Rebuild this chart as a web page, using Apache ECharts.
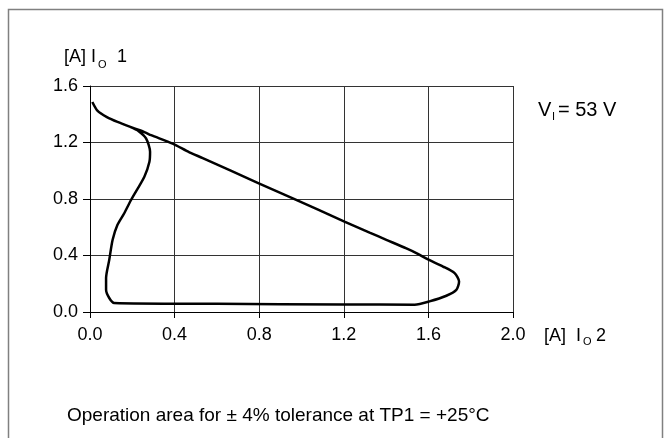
<!DOCTYPE html>
<html>
<head>
<meta charset="utf-8">
<script src="https://cdn.jsdelivr.net/npm/echarts@6/dist/echarts.min.js"></script>
<style>
html,body{margin:0;padding:0;background:#fff;}
#c{width:668px;height:438px;}
</style>
</head>
<body>
<div id="c"></div>
<script>
// Boundary of the operation area, traced in drawing order: I_O 2 (x) and I_O 1 (y), in A
var io2 = [0.011,0.036,0.08,0.13,0.21,0.26,0.289,0.391,0.470,0.533,0.798,0.959,1.203,1.322,1.401,1.496,1.55,1.598,1.669,1.724,1.745,1.732,1.685,1.605,1.535,1.2,0.6,0.114,0.091,0.076,0.076,0.091,0.107,0.13,0.162,0.194,0.257,0.281,0.284,0.265,0.23,0.19];
var io1 = [1.487,1.424,1.38,1.346,1.30,1.272,1.252,1.192,1.13,1.090,0.911,0.805,0.640,0.562,0.511,0.450,0.412,0.372,0.322,0.275,0.216,0.157,0.115,0.075,0.052,0.053,0.058,0.064,0.099,0.157,0.240,0.369,0.511,0.617,0.699,0.793,0.958,1.064,1.134,1.229,1.28,1.31];
var xTicks = [0.0,0.4,0.8,1.2,1.6,2.0];
var yTicks = [0.0,0.4,0.8,1.2,1.6];

var pts = io2.map(function(x,i){return [x, io1[i]];});
var FONT = '"Liberation Sans", Arial, sans-serif';
function t(left, top, text, size){
  return {type:'text', left:left, top:top, style:{text:text, fontSize:size, fontFamily:FONT, fill:'#000'}};
}
var chart = echarts.init(document.getElementById('c'), null, {renderer:'canvas'});
chart.setOption({
  animation:false,
  backgroundColor:'#fff',
  grid:{left:90, right:155, top:86, bottom:126, show:false},
  xAxis:{
    type:'value', min:xTicks[0], max:xTicks[xTicks.length-1], interval:0.4,
    axisLine:{show:true, onZero:false, lineStyle:{color:'#000', width:1}},
    axisTick:{show:true, inside:false, length:6, lineStyle:{color:'#000'}},
    axisLabel:{margin:14, color:'#000', fontSize:18, fontFamily:FONT, formatter:function(v){return v.toFixed(1);}},
    splitLine:{show:true, lineStyle:{color:'#333', width:1}}
  },
  yAxis:{
    type:'value', min:yTicks[0], max:yTicks[yTicks.length-1], interval:0.4,
    axisLine:{show:true, onZero:false, lineStyle:{color:'#000', width:1}},
    axisTick:{show:true, inside:false, length:7, lineStyle:{color:'#000'}},
    axisLabel:{margin:12, color:'#000', fontSize:18, fontFamily:FONT, formatter:function(v){return v.toFixed(1);}},
    splitLine:{show:true, lineStyle:{color:'#333', width:1}}
  },
  series:[{
    type:'line', data:pts, showSymbol:false, symbol:'none', smooth:0.25,
    lineStyle:{color:'#000', width:2.5}
  }],
  graphic:[
    {type:'rect', shape:{x:8.5, y:9.5, width:654, height:500}, style:{fill:'none', stroke:'#808080', lineWidth:1.5}, silent:true, z:-10},
    // y-axis title [A] I_O 1
    t(64, 48, '[A]', 18), t(91, 48, 'I', 18), t(98, 59, 'O', 11), t(117, 48, '1', 18),
    // x-axis title [A] I_O 2
    t(544, 327, '[A]', 18), t(576, 327, 'I', 18), t(583, 336, 'O', 11), t(596, 327, '2', 18),
    // V_I = 53 V
    t(538, 100, 'V', 20), t(552, 111, 'I', 11), t(558, 100, '= 53 V', 20),
    // caption
    t(67, 406, 'Operation area for \u00b1 4% tolerance at TP1 = +25\u00b0C', 19)
  ]
});
</script>
</body>
</html>
